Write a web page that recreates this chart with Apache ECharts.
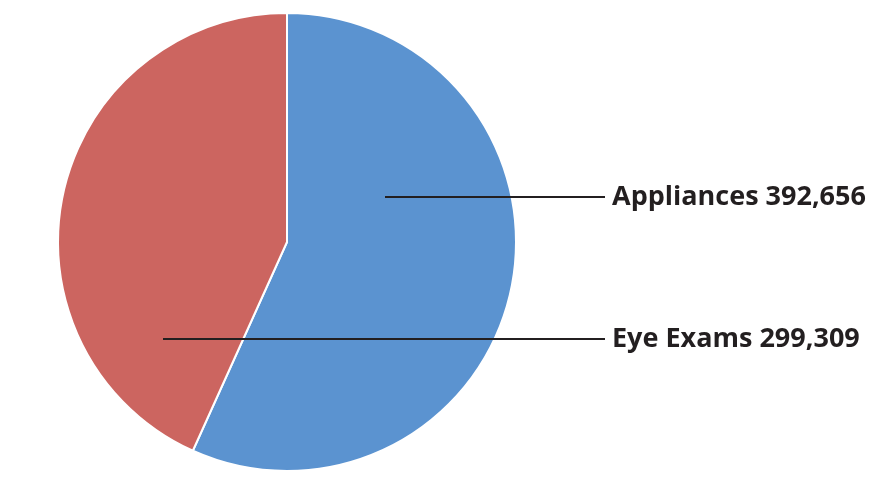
<!DOCTYPE html>
<html><head><meta charset="utf-8">
<script src="https://cdn.jsdelivr.net/npm/echarts@6/dist/echarts.min.js"></script>
<style>html,body{margin:0;padding:0;background:#fff}#c{width:870px;height:504px}</style>
</head><body><div id="c"></div>
<script>
const categories = ["Appliances", "Eye Exams"];
const values = [392656, 299309];
const colors = ["#5b93d0", "#cc6560"];

const chart = echarts.init(document.getElementById('c'));
// label line start (x, y) and the x where the line ends
const labelAnchors = [[385, 197], [163, 339]];
const lineEndX = 605;
chart.setOption({
  animation: false,
  series: [{
    type: 'pie',
    center: [287, 242],
    radius: [0, 229],
    startAngle: 90,
    clockwise: true,
    avoidLabelOverlap: false,
    data: categories.map((c, i) => ({
      name: c, value: values[i], itemStyle: { color: colors[i] },
      label: {
        rich: { line: { width: lineEndX - labelAnchors[i][0], height: 2, backgroundColor: '#231f20', verticalAlign: 'middle' } }
      }
    })),
    itemStyle: { borderColor: '#fff', borderWidth: 2 },
    label: {
      show: true,
      position: 'inside',
      overflow: 'none',
      formatter: p => '{line|}{sp|}{txt|' + p.name + ' ' + p.value.toLocaleString('en-US') + '}',
      rich: {
        sp: { width: 7 },
        txt: { fontFamily: 'Open Sans', fontWeight: 'bold', fontSize: 27, color: '#231f20', verticalAlign: 'middle' }
      }
    },
    labelLine: { show: false },
    labelLayout: function (params) {
      const i = params.dataIndex;
      return { x: labelAnchors[i][0], y: labelAnchors[i][1], align: 'left', verticalAlign: 'middle' };
    }
  }]
});
</script></body></html>
